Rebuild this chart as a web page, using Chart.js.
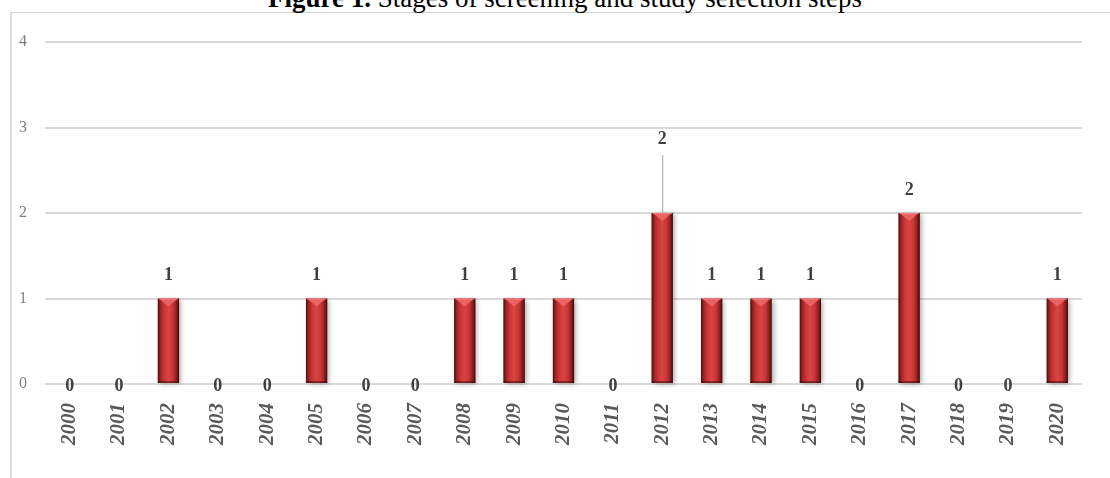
<!DOCTYPE html>
<html>
<head>
<meta charset="utf-8">
<script src="https://cdn.jsdelivr.net/npm/chart.js@4.4.1/dist/chart.umd.min.js"></script>
<style>
  html, body { margin: 0; padding: 0; background: #fff; overflow: hidden; }
  body { width: 1110px; height: 478px; position: relative; }
  #title {
    position: absolute; left: 20px; top: -15px; width: 1090px; text-align: center; white-space: nowrap;
    font-family: "Liberation Serif", "Times New Roman", serif; font-size: 27px; color: #000;
    line-height: 27px;
  }
  #frame {
    position: absolute; left: 10px; top: 12px; width: 1200px; height: 600px;
    border-left: 2px solid #dedede; border-top: 1px solid #d4d4d4;
  }
  #wrap { position: absolute; left: 0; top: 0; width: 1110px; height: 478px; }
</style>
</head>
<body>
<div id="frame"></div>
<div id="title"><b>Figure 1.</b> Stages of screening and study selection steps</div>
<div id="wrap"><canvas id="chart"></canvas></div>
<script>
// data
const years = ['2000', '2001', '2002', '2003', '2004', '2005', '2006', '2007', '2008', '2009', '2010',
               '2011', '2012', '2013', '2014', '2015', '2016', '2017', '2018', '2019', '2020'];
const counts = [0, 0, 1, 0, 0, 1, 0, 0, 1, 1, 1, 0, 2, 1, 1, 1, 0, 2, 0, 0, 1];
const yTicks = [0, 1, 2, 3, 4];
// label that was dragged up with a leader line
const leaderLabels = ['2012'];

const BAR_PCT = 0.43;

function barHalfWidth(chart) {
    return chart.scales.x.width / years.length * BAR_PCT / 2;
}

// red bar fill, dark edges and bright middle
function barFill(context) {
    const chart = context.chart;
    if (!chart.chartArea) return '#c83232';
    const x = chart.scales.x.getPixelForValue(context.dataIndex);
    const half = barHalfWidth(chart);
    const g = chart.ctx.createLinearGradient(x - half, 0, x + half, 0);
    g.addColorStop(0, '#4e0d0d');
    g.addColorStop(0.12, '#9c2424');
    g.addColorStop(0.3, '#cc3636');
    g.addColorStop(0.5, '#d94444');
    g.addColorStop(0.72, '#c83333');
    g.addColorStop(0.88, '#8c1e1e');
    g.addColorStop(1, '#3f0909');
    return g;
}

// soft shadow behind the bars
const barShadow = {
    id: 'barShadow',
    beforeDatasetsDraw(chart) {
        const ctx = chart.ctx;
        const meta = chart.getDatasetMeta(0);
        ctx.save();
        ctx.shadowColor = 'rgba(0,0,0,0.35)';
        ctx.shadowBlur = 5;
        ctx.shadowOffsetX = 2;
        ctx.shadowOffsetY = 1;
        ctx.fillStyle = '#777';
        meta.data.forEach((bar, i) => {
            if (!counts[i]) return;
            ctx.fillRect(bar.x - bar.width / 2, bar.y, bar.width, bar.base - bar.y);
        });
        ctx.restore();
    }
};

// bevelled top + value labels
const barDecor = {
    id: 'barDecor',
    afterDatasetsDraw(chart) {
        const ctx = chart.ctx;
        const meta = chart.getDatasetMeta(0);
        ctx.save();
        meta.data.forEach((bar, i) => {
            const v = counts[i];
            const l = bar.x - bar.width / 2, r = bar.x + bar.width / 2;
            if (v) {
                // top bevel triangle
                ctx.beginPath();
                ctx.moveTo(l + 1, bar.y);
                ctx.lineTo(r - 1, bar.y);
                ctx.lineTo(bar.x, bar.y + 8);
                ctx.closePath();
                ctx.fillStyle = '#ea6363';
                ctx.fill();
                ctx.fillStyle = 'rgba(255,150,150,0.6)';
                ctx.fillRect(l + 1, bar.y, bar.width - 2, 1);
                // bottom darker rim
                ctx.fillStyle = 'rgba(60,5,5,0.5)';
                ctx.fillRect(l, bar.base - 2, bar.width, 2);
            }

            ctx.font = 'bold 18px "Liberation Serif", "Times New Roman", serif';
            ctx.fillStyle = '#404040';
            ctx.textAlign = 'center';
            ctx.textBaseline = 'middle';
            if (!v) {
                ctx.fillText(String(v), bar.x, bar.base + 2);
            } else if (leaderLabels.includes(years[i])) {
                ctx.fillText(String(v), bar.x, bar.y - 74);
                ctx.strokeStyle = '#a6a6a6';
                ctx.lineWidth = 1;
                ctx.beginPath();
                ctx.moveTo(bar.x + 0.5, bar.y - 58);
                ctx.lineTo(bar.x + 0.5, bar.y);
                ctx.stroke();
            } else {
                ctx.fillText(String(v), bar.x, bar.y - 23);
            }
        });
        ctx.restore();
    }
};

const ctx = document.getElementById('chart').getContext('2d');
new Chart(ctx, {
    type: 'bar',
    data: {
        labels: years,
        datasets: [{
            data: counts,
            backgroundColor: barFill,
            borderWidth: 0,
            barPercentage: BAR_PCT,
            categoryPercentage: 1
        }]
    },
    options: {
        responsive: true,
        maintainAspectRatio: false,
        animation: false,
        events: [],
        layout: { padding: { left: 11, right: 28, top: 42, bottom: 0 } },
        plugins: {
            legend: { display: false },
            tooltip: { enabled: false }
        },
        scales: {
            x: {
                grid: { display: false },
                border: { display: false },
                afterFit(scale) { scale.height = 94; },
                ticks: {
                    autoSkip: false,
                    minRotation: 90,
                    maxRotation: 90,
                    padding: 11,
                    color: '#595959',
                    font: { family: '"Liberation Serif", "Times New Roman", serif', size: 21, style: 'italic', weight: 'bold' }
                }
            },
            y: {
                min: yTicks[0],
                max: yTicks[yTicks.length - 1],
                afterFit(scale) { scale.width = 34; },
                afterBuildTicks(scale) { scale.ticks = yTicks.map(v => ({ value: v })); },
                grid: { color: '#d9d9d9', lineWidth: 2, drawTicks: false },
                border: { display: false },
                ticks: {
                    padding: 18,
                    color: '#7f7f7f',
                    font: { family: '"Liberation Serif", "Times New Roman", serif', size: 16 }
                }
            }
        }
    },
    plugins: [barShadow, barDecor]
});
</script>
</body>
</html>
